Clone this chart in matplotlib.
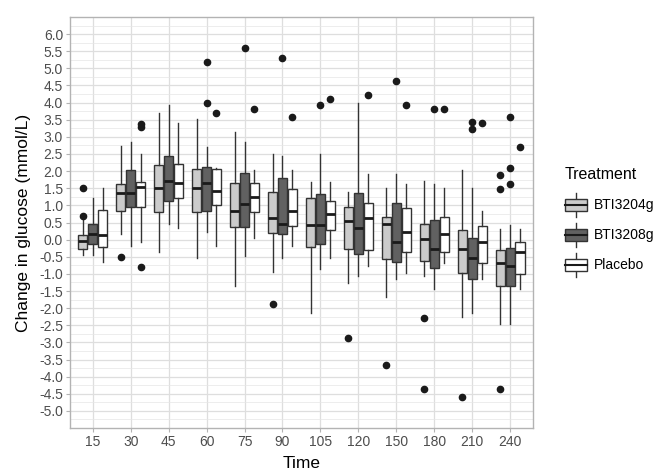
import numpy as np
import matplotlib.pyplot as plt
from matplotlib.legend_handler import HandlerBase
from matplotlib.patches import Rectangle
from matplotlib.lines import Line2D

plt.rcParams['font.family'] = ['Liberation Sans', 'DejaVu Sans']

# data (box stats per time point)
times = ['15', '30', '45', '60', '75', '90', '105', '120', '150', '180', '210', '240']
treatments = ['BTI3204g', 'BTI3208g', 'Placebo']
fills = ['#cbcbcb', '#616161', '#ffffff']

# BTI3204g
a_lo = [-0.45, 0.16, -0.36, -0.55, -1.35, -0.94, -2.15, -1.28, -1.67, -1.06, -2.25, -2.45]
a_q1 = [-0.28, 0.84, 0.81, 0.81, 0.37, 0.20, -0.22, -0.26, -0.58, -0.63, -0.96, -1.35]
a_med = [-0.04, 1.35, 1.52, 1.52, 0.85, 0.62, 0.42, 0.54, 0.45, 0.02, -0.27, -0.67]
a_q3 = [0.13, 1.63, 2.18, 2.06, 1.66, 1.40, 1.22, 0.96, 0.67, 0.46, 0.28, -0.29]
a_hi = [0.60, 2.72, 3.71, 3.53, 3.13, 2.50, 1.69, 1.40, 1.52, 1.70, 2.02, 0.32]
a_out = [[0.7, 1.5], [-0.5], [], [], [], [-1.88], [], [-2.87], [-3.67],
         [-2.28, -4.37], [-4.59], [1.9, 1.49, -4.37]]

# BTI3208g
b_lo = [-0.45, -0.19, 0.45, 0.23, -0.47, -0.55, -0.87, -1.07, -1.16, -1.45, -2.15, -2.45]
b_q1 = [-0.13, 0.94, 1.13, 0.84, 0.37, 0.16, -0.13, -0.43, -0.65, -0.82, -1.15, -1.35]
b_med = [0.16, 1.35, 1.71, 1.65, 1.04, 0.45, 0.42, 0.33, -0.06, -0.26, -0.55, -0.77]
b_q3 = [0.45, 2.03, 2.43, 2.11, 1.95, 1.80, 1.33, 1.37, 1.07, 0.57, 0.04, -0.25]
b_hi = [1.22, 2.84, 3.93, 2.71, 2.84, 2.44, 2.50, 3.99, 1.92, 1.63, 1.52, 0.42]
b_out = [[], [], [], [5.19, 3.99], [5.6], [5.31], [3.92], [], [4.62],
         [3.81], [3.42, 3.22], [3.59, 2.1, 1.62]]

# Placebo
c_lo = [-0.65, -0.07, 0.33, -0.19, 0.04, -0.19, -0.55, -0.77, -0.96, -0.68, -1.15, -1.45]
c_q1 = [-0.21, 0.94, 1.21, 1.00, 0.81, 0.41, 0.27, -0.29, -0.36, -0.36, -0.69, -0.99]
c_med = [0.13, 1.54, 1.65, 1.42, 1.24, 0.84, 0.74, 0.62, 0.23, 0.15, -0.06, -0.37]
c_q3 = [0.86, 1.69, 2.20, 2.06, 1.66, 1.47, 1.14, 1.07, 0.93, 0.67, 0.41, -0.08]
c_hi = [1.51, 2.50, 3.41, 2.10, 2.02, 2.02, 1.69, 1.91, 1.63, 1.52, 0.83, 0.32]
c_out = [[], [3.39, 3.29, -0.79], [], [3.7], [3.81], [3.59], [4.1], [4.21],
         [3.92], [3.81], [3.41], [2.71]]

groups = [
    (a_lo, a_q1, a_med, a_q3, a_hi, a_out),
    (b_lo, b_q1, b_med, b_q3, b_hi, b_out),
    (c_lo, c_q1, c_med, c_q3, c_hi, c_out),
]

edge = '#333333'

fig = plt.figure(figsize=(6.62, 4.72), dpi=100)
ax = fig.add_axes([0.1057, 0.0932, 0.6993, 0.8708])

x = np.arange(1, len(times) + 1)
offsets = [-0.26, 0.0, 0.26]

for (lo, q1, med, q3, hi, out), off, fc in zip(groups, offsets, fills):
    stats = []
    for i in range(len(times)):
        stats.append(dict(whislo=lo[i], q1=q1[i], med=med[i], q3=q3[i],
                          whishi=hi[i], fliers=out[i]))
    ax.bxp(stats, positions=x + off, widths=0.24, patch_artist=True,
           showcaps=False, manage_ticks=False,
           boxprops=dict(facecolor=fc, edgecolor=edge, linewidth=1.0),
           medianprops=dict(color='#1a1a1a', linewidth=2.0, solid_capstyle='butt'),
           whiskerprops=dict(color=edge, linewidth=1.0),
           flierprops=dict(marker='o', markerfacecolor='#1a1a1a',
                           markeredgecolor='#1a1a1a', markersize=4.5))

ax.set_xlim(0.4, len(times) + 0.6)
ax.set_ylim(-5.5, 6.5)
ax.set_xticks(x)
ax.set_xticklabels(times)
yt = np.arange(-5, 6.01, 0.5)
ax.set_yticks(yt)
ax.set_yticklabels([f'{v:.1f}' for v in yt])
ax.set_yticks(np.arange(-5.25, 6.3, 0.5), minor=True)

ax.grid(which='major', color='#dedede', linewidth=0.9)
ax.grid(which='minor', axis='y', color='#e6e6e6', linewidth=0.5)
ax.set_axisbelow(True)
for s in ax.spines.values():
    s.set_color('#b3b3b3')
    s.set_linewidth(1.0)
ax.tick_params(which='major', length=3, color='#b3b3b3', labelcolor='#4d4d4d',
               labelsize=10, pad=2)
ax.tick_params(which='minor', length=0)

ax.set_xlabel('Time', fontsize=12.5, labelpad=5)
ax.set_ylabel('Change in glucose (mmol/L)', fontsize=12.5, labelpad=6)


class BoxKey(HandlerBase):
    def create_artists(self, legend, orig_handle, xdescent, ydescent,
                       width, height, fontsize, trans):
        x0, y0 = -xdescent, -ydescent
        whisk = Line2D([x0 + width / 2] * 2, [y0 - 0.5 * height, y0 + 1.5 * height],
                       color=edge, linewidth=1.0, transform=trans)
        box = Rectangle((x0, y0), width, height, facecolor=orig_handle.get_facecolor(),
                        edgecolor=edge, linewidth=1.0, transform=trans)
        med = Line2D([x0, x0 + width], [y0 + height / 2] * 2, color='#1a1a1a',
                     linewidth=1.5, transform=trans)
        return [whisk, box, med]


handles = [Rectangle((0, 0), 1, 1, facecolor=c) for c in fills]
fig.legend(handles, treatments, handler_map={Rectangle: BoxKey()},
           title='Treatment', loc='upper left', bbox_to_anchor=(0.843, 0.66),
           frameon=False, fontsize=10, title_fontsize=11.5, handlelength=1.6,
           handleheight=0.95, labelspacing=1.15, handletextpad=0.45, borderpad=0,
           alignment='left')

fig.savefig('out.png', dpi=100)
